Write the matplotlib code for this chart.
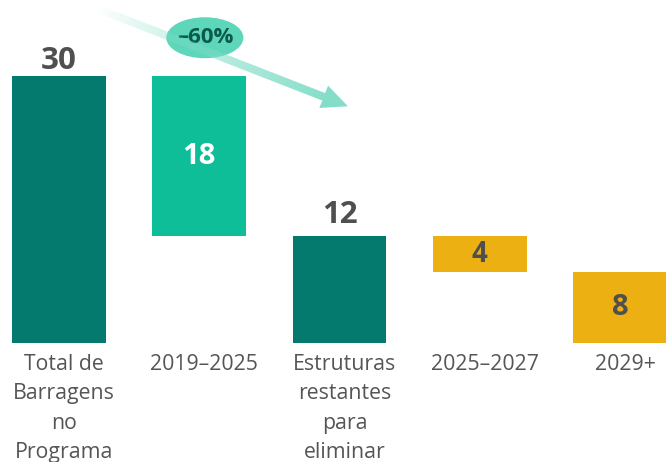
import numpy as np
import matplotlib.pyplot as plt
from matplotlib.patches import Ellipse, Polygon

# Data
categories = ['Total de\nBarragens\nno\nPrograma', '2019–2025', 'Estruturas\nrestantes\npara\neliminar',
              '2025–2027', '2029+']
values = [30, 18, 12, 4, 8]
bottoms = [0, 12, 0, 8, 0]
colors = ['#04796D', '#0DBE99', '#04796D', '#EDB012', '#EDB012']
label_pos = ['above', 'inside', 'above', 'inside', 'inside']
label_gap = [0.8, 0, 1.45, 0, 0]
label_colors = ['#4F4F4F', '#FFFFFF', '#4F4F4F', '#4F4F4F', '#4F4F4F']
change_label = '–60%'

plt.rcParams['font.family'] = ['Open Sans', 'DejaVu Sans']

fig = plt.figure(figsize=(6.66, 4.62), dpi=100)
ax = fig.add_axes([0, 0, 1, 1])
ax.set_xlim(-0.4207, 4.328)
ax.set_ylim(-13.37, 38.54)
ax.axis('off')

x = np.arange(len(values))
ax.bar(x, values, bottom=bottoms, width=0.67, color=colors, zorder=2)

for i, (v, b) in enumerate(zip(values, bottoms)):
    if label_pos[i] == 'above':
        ax.text(i, b + v + label_gap[i], str(v), ha='center', va='baseline', fontsize=22.5,
                fontweight='bold', color=label_colors[i], zorder=3)
    else:
        ax.text(i, b + v / 2, str(v), ha='center', va='center', fontsize=21 if v > 5 else 20,
                fontweight='bold', color=label_colors[i], zorder=3)
    ax.text(i + 0.036, -1.2, categories[i], ha='center', va='top', fontsize=15.3,
            color='#555555', linespacing=1.53)

# gradient arrow, in pixel space
fig.canvas.draw()
p0 = ax.transData.transform((0.27, 37.6))
p1 = ax.transData.transform((2.06, 26.6))
d = p1 - p0
L = np.hypot(*d)
u = d / L
n = np.array([-u[1], u[0]])
head_len, head_w, shaft_w = 26, 12, 4
shaft_end = p1 - u * head_len
arrow_col = '#7EDCC6'
N = 60
for k in range(N):
    a = p0 + (shaft_end - p0) * k / N
    b = p0 + (shaft_end - p0) * (k + 1.05) / N
    poly = [a + n * shaft_w, b + n * shaft_w, b - n * shaft_w, a - n * shaft_w]
    fig.patches.append(Polygon(poly, closed=True, transform=None, facecolor=arrow_col,
                               edgecolor='none', alpha=(k / N) ** 0.9 * 0.95, zorder=1))
head = [shaft_end + n * head_w, p1, shaft_end - n * head_w]
fig.patches.append(Polygon(head, closed=True, transform=None, facecolor=arrow_col,
                           edgecolor='none', alpha=0.95, zorder=1))

# pill
ax.add_patch(Ellipse((1.04, 34.3), 0.55, 4.6, facecolor='#5ED6BA', edgecolor='none', zorder=4))
ax.text(1.04, 34.3, change_label, ha='center', va='center', fontsize=16, fontweight='bold',
        color='#0A5A4E', zorder=5)

fig.savefig('out.png', dpi=100)
